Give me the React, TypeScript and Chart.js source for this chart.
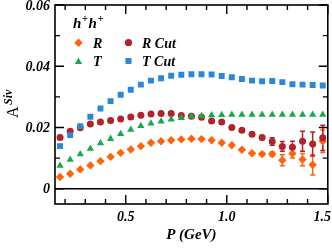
import React, { useEffect, useRef } from 'react';
import { Chart, registerables } from 'chart.js';
import { drawPoint } from 'chart.js/helpers';

Chart.register(...registerables);

// ---------- data ----------
const pValues = [0.175, 0.225, 0.275, 0.325, 0.375, 0.425, 0.475, 0.525, 0.575, 0.625, 0.675, 0.725, 0.775, 0.825, 0.875, 0.925, 0.975, 1.025, 1.075, 1.125, 1.175, 1.225, 1.275, 1.325, 1.375, 1.425, 1.475];

const rValues = [0.0038, 0.0049, 0.0063, 0.0076, 0.0090, 0.0104, 0.0117, 0.0128, 0.0139, 0.0150, 0.0155, 0.0158, 0.0161, 0.0163, 0.0162, 0.0158, 0.0150, 0.0142, 0.0127, 0.0116, 0.0113, 0.0113, 0.0093, 0.0115, 0.0095, 0.0078, 0.0155];
const rErrors = [0, 0, 0, 0, 0, 0, 0, 0, 0, 0, 0, 0, 0, 0, 0, 0, 0, 0, 0, 0, 0.0004, 0.0007, 0.0018, 0.0015, 0.0020, 0.0033, 0.0037];

const rCutValues = [0.0167, 0.0188, 0.0199, 0.0211, 0.0218, 0.0223, 0.0228, 0.0234, 0.0240, 0.0244, 0.0246, 0.0246, 0.0239, 0.0237, 0.0233, 0.0221, 0.0218, 0.0200, 0.0191, 0.0178, 0.0167, 0.0154, 0.0138, 0.0135, 0.0155, 0.0146, 0.0166];
const rCutErrors = [0, 0, 0, 0, 0, 0, 0, 0, 0, 0, 0, 0, 0, 0, 0, 0, 0, 0, 0, 0, 0.0006, 0.0012, 0.0016, 0.0020, 0.0033, 0.0039, 0.0041];

const tValues = [0.0075, 0.0095, 0.0113, 0.0131, 0.0149, 0.0163, 0.0179, 0.0193, 0.0205, 0.0213, 0.0220, 0.0226, 0.0231, 0.0236, 0.0238, 0.0240, 0.0241, 0.0242, 0.0242, 0.0242, 0.0242, 0.0242, 0.0242, 0.0242, 0.0242, 0.0242, 0.0242];

const tCutValues = [0.0139, 0.0175, 0.0204, 0.0235, 0.0262, 0.0286, 0.0307, 0.0323, 0.0340, 0.0353, 0.0361, 0.0369, 0.0372, 0.0374, 0.0374, 0.0373, 0.0368, 0.0364, 0.0358, 0.0353, 0.0351, 0.0352, 0.0348, 0.0341, 0.0340, 0.0339, 0.0337];

const xMajorTicks = [0.5, 1.0, 1.5];
const xTickLabels = ['0.5', '1.0', '1.5'];
const xMinorTicks = [0.2, 0.3, 0.4, 0.6, 0.7, 0.8, 0.9, 1.1, 1.2, 1.3, 1.4];
const yMajorTicks = [0, 0.02, 0.04, 0.06];
const yTickLabels = ['0', '0.02', '0.04', '0.06'];
const yMinorTicks = [0.01, 0.03, 0.05];

const seriesNames = ['R', 'T', 'R Cut', 'T Cut'];
const legendTitle = 'h';
const xTitle = 'P (GeV)';
const yTitleMain = 'A';
const yTitleSup = 'Siv';

// ---------- styles ----------
const COLORS = { R: '#FF6309', T: '#18A94B', RCut: '#B3212A', TCut: '#2B87D7' };
const SERIF = '"Liberation Serif", "DejaVu Serif", serif';
const BI = (px: number) => `italic bold ${px}px ${SERIF}`;

const errorMap: Record<string, { values: number[]; errors: number[]; color: string }> = {
  R: { values: rValues, errors: rErrors, color: COLORS.R },
  'R Cut': { values: rCutValues, errors: rCutErrors, color: COLORS.RCut },
};

const decorPlugin = {
  id: 'decor',
  beforeDatasetsDraw(chart: any) {
    const { ctx, chartArea: a, scales } = chart;
    const x = scales.x, y = scales.y;
    ctx.save();
    // zero line
    const y0 = y.getPixelForValue(0);
    ctx.strokeStyle = '#000';
    ctx.lineWidth = 1.6;
    ctx.beginPath();
    ctx.moveTo(a.left, y0);
    ctx.lineTo(a.right, y0);
    ctx.stroke();
    // error bars
    Object.values(errorMap).forEach(({ values, errors, color }) => {
      ctx.strokeStyle = color;
      ctx.lineWidth = 1.5;
      values.forEach((v, i) => {
        const e = errors[i];
        if (!e) return;
        const px = x.getPixelForValue(pValues[i]);
        const yt = y.getPixelForValue(v + e);
        const yb = y.getPixelForValue(v - e);
        ctx.beginPath();
        ctx.moveTo(px, yt); ctx.lineTo(px, yb);
        ctx.moveTo(px - 2.5, yt); ctx.lineTo(px + 2.5, yt);
        ctx.moveTo(px - 2.5, yb); ctx.lineTo(px + 2.5, yb);
        ctx.stroke();
      });
    });
    ctx.restore();
  },
  afterDraw(chart: any) {
    const { ctx, chartArea: a, scales } = chart;
    const x = scales.x, y = scales.y;
    ctx.save();
    ctx.strokeStyle = '#000';
    ctx.fillStyle = '#000';
    // frame
    ctx.lineWidth = 1.6;
    ctx.strokeRect(a.left, a.top, a.right - a.left, a.bottom - a.top);
    // x ticks (inward, top and bottom)
    ctx.lineWidth = 1.4;
    const xt = (v: number, len: number) => {
      const px = x.getPixelForValue(v);
      ctx.beginPath();
      ctx.moveTo(px, a.bottom); ctx.lineTo(px, a.bottom - len);
      ctx.moveTo(px, a.top); ctx.lineTo(px, a.top + len);
      ctx.stroke();
    };
    xMajorTicks.forEach(v => xt(v, 9));
    xMinorTicks.forEach(v => xt(v, 5));
    const yt = (v: number, len: number) => {
      const py = y.getPixelForValue(v);
      ctx.beginPath();
      ctx.moveTo(a.left, py); ctx.lineTo(a.left + len, py);
      ctx.moveTo(a.right, py); ctx.lineTo(a.right - len, py);
      ctx.stroke();
    };
    yMajorTicks.forEach(v => yt(v, 9));
    yMinorTicks.forEach(v => yt(v, 5));

    // tick labels
    ctx.font = BI(14);
    ctx.textBaseline = 'middle';
    ctx.textAlign = 'right';
    yMajorTicks.forEach((v, i) => {
      ctx.fillText(yTickLabels[i], a.left - 5, y.getPixelForValue(v) + 1);
    });
    ctx.textBaseline = 'alphabetic';
    ctx.textAlign = 'center';
    const W = chart.width;
    xMajorTicks.forEach((v, i) => {
      const w = ctx.measureText(xTickLabels[i]).width;
      let cx = x.getPixelForValue(v);
      cx = Math.min(cx, W - w / 2 - 1);
      ctx.fillText(xTickLabels[i], cx, a.bottom + 17);
    });

    // x title
    ctx.font = BI(15);
    ctx.fillText(xTitle, (a.left + a.right) / 2, a.bottom + 35);

    // y title (rotated)
    ctx.save();
    ctx.translate(18, 118);
    ctx.rotate(-Math.PI / 2);
    ctx.textAlign = 'left';
    ctx.font = `16px ${SERIF}`;
    ctx.fillText(yTitleMain, 0, 0);
    const wA = ctx.measureText(yTitleMain).width;
    ctx.font = BI(12);
    ctx.fillText(yTitleSup, wA + 1.5, -6);
    ctx.restore();

    // legend
    ctx.textAlign = 'left';
    let lx = 73;
    const drawHplus = () => {
      ctx.font = BI(15);
      ctx.fillText(legendTitle, lx, 28);
      lx += ctx.measureText(legendTitle).width;
      ctx.font = BI(11);
      ctx.fillText('+', lx + 0.5, 22);
      lx += ctx.measureText('+').width + 1;
    };
    drawHplus();
    drawHplus();

    const entries = [
      { name: seriesNames[0], style: 'rectRot', color: COLORS.R, mx: 78.5, my: 42.7, tx: 93, ty: 47.5, r: 4 },
      { name: seriesNames[2], style: 'circle', color: COLORS.RCut, mx: 128.5, my: 42.7, tx: 142, ty: 47.5, r: 3.4 },
      { name: seriesNames[1], style: 'triangle', color: COLORS.T, mx: 78.5, my: 62, tx: 93, ty: 66, r: 4 },
      { name: seriesNames[3], style: 'rect', color: COLORS.TCut, mx: 128.5, my: 61, tx: 142, ty: 66, r: 4 },
    ];
    entries.forEach(en => {
      ctx.fillStyle = en.color;
      drawPoint(ctx, { pointStyle: en.style, radius: en.r, rotation: 0, borderWidth: 0 } as any, en.mx, en.my);
      ctx.fill();
      ctx.fillStyle = '#000';
      ctx.font = BI(14);
      ctx.fillText(en.name, en.tx, en.ty);
    });
    ctx.restore();
  },
};

function mk(values: number[]) {
  return values.map((v, i) => ({ x: pValues[i], y: v }));
}

export default function App() {
  const ref = useRef<HTMLCanvasElement | null>(null);
  useEffect(() => {
    document.body.style.margin = '0';
    const canvas = ref.current!;
    const chart = new Chart(canvas, {
      type: 'scatter',
      data: {
        datasets: [
          { label: seriesNames[3], data: mk(tCutValues), pointStyle: 'rect', pointRadius: 4.2, backgroundColor: COLORS.TCut, borderWidth: 0 },
          { label: seriesNames[1], data: mk(tValues), pointStyle: 'triangle', pointRadius: 4.2, backgroundColor: COLORS.T, borderWidth: 0 },
          { label: seriesNames[2], data: mk(rCutValues), pointStyle: 'circle', pointRadius: 3.5, backgroundColor: COLORS.RCut, borderWidth: 0 },
          { label: seriesNames[0], data: mk(rValues), pointStyle: 'rectRot', pointRadius: 4.2, backgroundColor: COLORS.R, borderWidth: 0 },
        ] as any,
      },
      options: {
        animation: false,
        responsive: false,
        devicePixelRatio: 1,
        layout: { padding: { left: 55, right: 3, top: 5, bottom: 45 } },
        scales: {
          x: { type: 'linear', min: 0.15, max: 1.5, display: false },
          y: { type: 'linear', min: -0.005, max: 0.06, display: false },
        },
        plugins: { legend: { display: false }, tooltip: { enabled: false } },
        events: [],
      } as any,
      plugins: [decorPlugin],
    });
    return () => chart.destroy();
  }, []);
  return (
    <div style={{ position: 'absolute', left: 0, top: 0, width: 332, height: 249, background: '#fff' }}>
      <canvas ref={ref} width={332} height={249} style={{ display: 'block', width: 332, height: 249 }} />
    </div>
  );
}
